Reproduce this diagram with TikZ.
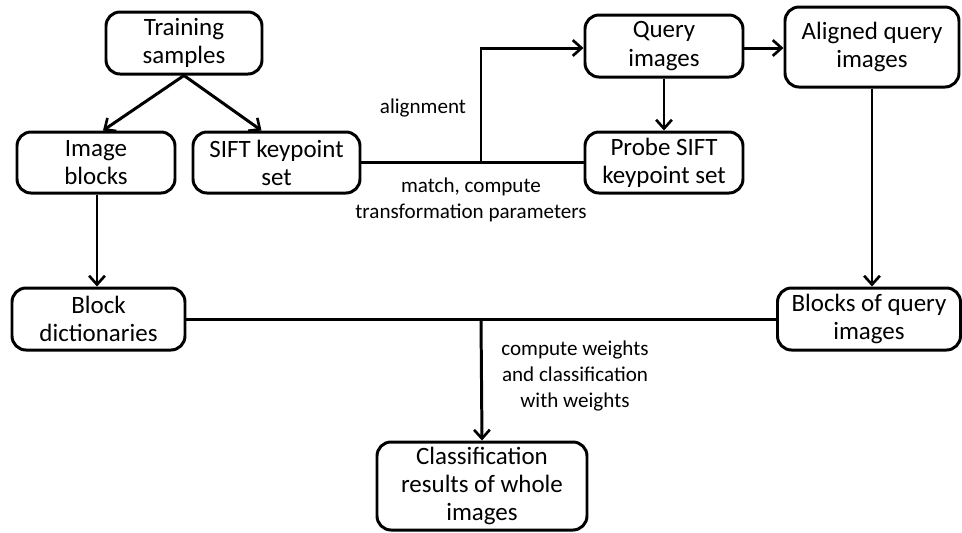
\documentclass[tikz,border=0pt]{standalone}
\usepackage{fontspec}
\setmainfont{Carlito}
\usetikzlibrary{arrows.meta}

\tikzset{
  box/.style={draw, line width=1.7pt, rounded corners=8pt, align=center,
    inner sep=2pt, font=\fontsize{14.2}{16}\selectfont},
  lbl/.style={align=center, font=\fontsize{12}{14.7}\selectfont},
  arr/.style={line width=1.7pt, -{Straight Barb[length=5pt,width=9pt,line width=1.5pt]}},
  ln/.style={line width=1.7pt}
}

\begin{document}
\begin{tikzpicture}
\useasboundingbox (0,0) rectangle (19.24,-10.64);

\node[box, minimum width=3.12cm, minimum height=1.24cm] (train) at (3.68,-0.86) {Training\\samples};
\node[box, minimum width=3.16cm, minimum height=1.22cm] (blocks) at (1.92,-3.25) {Image\\blocks};
\node[box, minimum width=3.34cm, minimum height=1.22cm] (sift) at (5.53,-3.25) {SIFT keypoint\\set};
\node[box, minimum width=3.16cm, minimum height=1.24cm] (query) at (13.28,-0.92) {Query\\images};
\node[box, minimum width=3.16cm, minimum height=1.22cm] (probe) at (13.28,-3.25) {Probe SIFT\\keypoint set};
\node[box, minimum width=3.48cm, minimum height=1.6cm] (aligned) at (17.44,-0.94) {Aligned query\\images};
\node[box, minimum width=3.46cm, minimum height=1.24cm] (dict) at (1.97,-6.38) {Block\\dictionaries};
\node[box, minimum width=3.66cm, minimum height=1.24cm] (qblocks) at (17.38,-6.38) {Blocks of query\\images};
\node[box, minimum width=4.2cm, minimum height=1.76cm] (result) at (9.64,-9.72) {Classification\\results of whole\\images};

\coordinate (j1) at (9.62,-3.25);
\coordinate (j2) at (9.62,-6.38);

\draw[arr] (train.south) -- ([xshift=0.14cm]blocks.north);
\draw[arr] (train.south) -- ([xshift=-0.3cm]sift.north);
\draw[arr] ([xshift=0.02cm]blocks.south) -- ([xshift=0.02cm]blocks.south |- dict.north);
\draw[ln] (sift.east) -- (probe.west);
\draw[arr] (j1) |- ([yshift=-0.04cm]query.west);
\draw[arr] (query.south) -- (probe.north);
\draw[arr] ([yshift=-0.04cm]query.east) -- ([yshift=-0.04cm]query.east -| aligned.west);
\draw[arr] (aligned.south) -- (aligned.south |- qblocks.north);
\draw[ln] (dict.east) -- (qblocks.west);
\draw[arr] (j2) -- (result.north);

\node[lbl] (alignlbl) at (8.46,-2.16) {alignment};
\node[lbl] (matchlbl) at (9.42,-4.0) {match, compute\\transformation parameters};
\node[lbl] (weightlbl) at (11.5,-7.52) {compute weights\\and classification\\with weights};
\end{tikzpicture}
\end{document}
